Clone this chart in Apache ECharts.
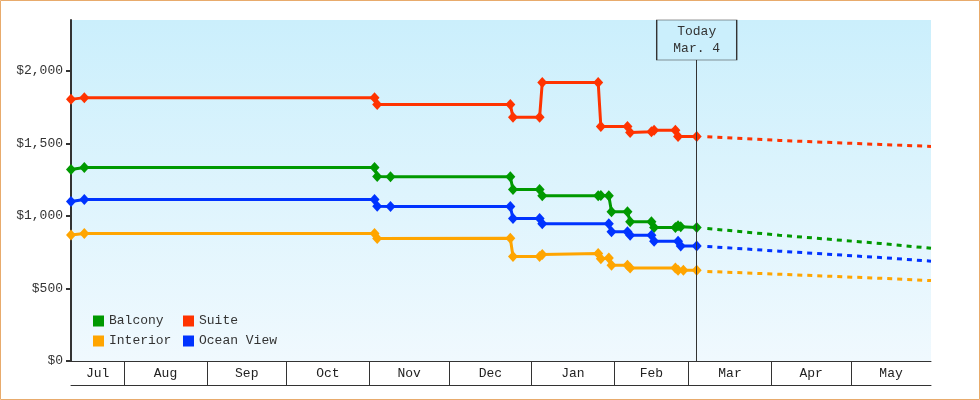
<!DOCTYPE html>
<html><head><meta charset="utf-8">
<script src="https://cdn.jsdelivr.net/npm/echarts@6/dist/echarts.min.js"></script>
<style>html,body{margin:0;padding:0;background:#fff}#c{width:980px;height:400px}</style>
</head><body><div id="c"></div>
<script>
// ---- data ----
const axisStart = '2018-07-12';
const axisEnd = '2019-05-31';
const monthLabels = ['Jul','Aug','Sep','Oct','Nov','Dec','Jan','Feb','Mar','Apr','May'];
const monthBoundaries = ['2018-08-01','2018-09-01','2018-10-01','2018-11-01','2018-12-01','2019-01-01','2019-02-01','2019-03-01','2019-04-01','2019-05-01'];
const yTicks = [0, 500, 1000, 1500, 2000];
const yMax = 2350;
const todayDate = '2019-03-04';
const todayText = 'Today\nMar. 4';

const suiteDates = ['2018-07-12','2018-07-17','2018-11-03','2018-11-04','2018-12-24','2018-12-25','2019-01-04','2019-01-05','2019-01-26','2019-01-27','2019-02-06','2019-02-07','2019-02-15','2019-02-16','2019-02-24','2019-02-25','2019-03-04'];
const suitePrices = [1803,1815,1815,1768,1768,1679,1679,1920,1920,1616,1616,1575,1580,1590,1590,1548,1548];

const balconyDates = ['2018-07-12','2018-07-17','2018-11-03','2018-11-04','2018-11-09','2018-12-24','2018-12-25','2019-01-04','2019-01-05','2019-01-26','2019-01-27','2019-01-30','2019-01-31','2019-02-06','2019-02-07','2019-02-15','2019-02-16','2019-02-24','2019-02-25','2019-02-26','2019-03-04'];
const balconyPrices = [1320,1334,1334,1272,1269,1269,1182,1182,1138,1138,1140,1138,1028,1028,959,959,920,920,932,925,920];

const oceanDates = ['2018-07-12','2018-07-17','2018-11-03','2018-11-04','2018-11-09','2018-12-24','2018-12-25','2019-01-04','2019-01-05','2019-01-30','2019-01-31','2019-02-06','2019-02-07','2019-02-15','2019-02-16','2019-02-25','2019-02-26','2019-03-04'];
const oceanPrices = [1099,1113,1113,1067,1065,1065,982,982,945,945,890,890,867,867,826,826,793,793];

const interiorDates = ['2018-07-12','2018-07-17','2018-11-03','2018-11-04','2018-12-24','2018-12-25','2019-01-04','2019-01-05','2019-01-26','2019-01-27','2019-01-30','2019-01-31','2019-02-06','2019-02-07','2019-02-24','2019-02-25','2019-02-27','2019-03-04'];
const interiorPrices = [869,879,879,844,846,720,720,734,741,705,710,660,660,641,641,625,625,625];

const forecastDates = ['2019-03-08','2019-04-04','2019-05-12','2019-05-31'];
const suiteForecast = [1545,1520,1492,1479];
const balconyForecast = [913,867,810,777];
const oceanForecast = [789,757,713,688];
const interiorForecast = [617,598,570,554];

// ---- helpers ----
const ts = d => Date.parse(d + 'T00:00:00Z');
const zip = (ds, vs) => ds.map((d, i) => [ts(d), vs[i]]);
const FONT = 'Liberation Mono';
const edges = [ts(axisStart)].concat(monthBoundaries.map(ts), [ts(axisEnd)]);
const labelValues = monthLabels.map((m, i) => (edges[i] + edges[i + 1]) / 2);
const colors = {Balcony:'#009900', Suite:'#ff3300', Interior:'#ffa500', 'Ocean View':'#0033ff'};

function mainSeries(name, ds, vs, extra) {
  return Object.assign({
    name, type:'line', data: zip(ds, vs), color: colors[name],
    symbol:'diamond', symbolSize:[10,11], showSymbol:true,
    lineStyle:{width:3, color: colors[name]}, itemStyle:{color: colors[name]},
    z:3, animation:false, emphasis:{disabled:true}
  }, extra || {});
}
function forecastSeries(name, vs) {
  return {
    name: name + ' forecast', type:'line', data: zip(forecastDates, vs),
    symbol:'none', showSymbol:false, color: colors[name],
    lineStyle:{width:3, type:[5,5], color: colors[name]},
    z:3, animation:false, emphasis:{disabled:true}
  };
}

const bgTop = '#cbeffc', bgBottom = '#f0f9fe';
const legendText = {fontFamily:FONT, fontSize:13, color:'#333', lineHeight:14};
const chart = echarts.init(document.getElementById('c'), null, {renderer:'canvas'});
chart.setOption({
  animation:false,
  textStyle:{fontFamily: FONT},
  grid:{left:71, right:49, top:20, bottom:39, show:true, borderWidth:0,
    backgroundColor:{type:'linear', x:0, y:0, x2:0, y2:1, colorStops:[{offset:0,color:bgTop},{offset:1,color:bgBottom}]}},
  graphic:[{type:'rect', shape:{x:0.5, y:0.5, width:979, height:399}, style:{fill:'transparent', stroke:'#e8ab6c', lineWidth:1}, silent:true, z:100}],
  legend:[
    {data:['Balcony','Interior'], orient:'vertical', left:88, top:309, icon:'rect', itemWidth:11, itemHeight:11, itemGap:6,
     selectedMode:false, textStyle:legendText},
    {data:['Suite','Ocean View'], orient:'vertical', left:178, top:309, icon:'rect', itemWidth:11, itemHeight:11, itemGap:6,
     selectedMode:false, textStyle:legendText}
  ],
  xAxis:[
    {type:'value', min: ts(axisStart), max: ts(axisEnd), position:'bottom',
     axisLine:{show:true, lineStyle:{color:'#333', width:1}},
     axisTick:{show:true, inside:false, length:25, customValues: monthBoundaries.map(ts), lineStyle:{color:'#333', width:1}},
     axisLabel:{show:true, customValues: labelValues, margin:6, color:'#222', fontFamily:FONT, fontSize:13,
       formatter: v => { let bi = 0, bd = Infinity; labelValues.forEach((lv, i) => { const d = Math.abs(lv - v); if (d < bd) { bd = d; bi = i; } }); return monthLabels[bi]; }},
     splitLine:{show:false}},
    {type:'value', min: ts(axisStart), max: ts(axisEnd), position:'bottom', offset:24,
     axisLine:{show:true, lineStyle:{color:'#333', width:1}}, axisTick:{show:false}, axisLabel:{show:false}, splitLine:{show:false}}
  ],
  yAxis:{type:'value', min:0, max:yMax,
    axisLine:{show:true, lineStyle:{color:'#333', width:2}},
    axisTick:{show:true, length:5, customValues:yTicks, lineStyle:{color:'#333', width:2}},
    axisLabel:{customValues:yTicks, margin:8, color:'#333', fontFamily:FONT, fontSize:13,
      formatter: v => '$' + v.toLocaleString('en-US')},
    splitLine:{show:false}},
  series:[
    mainSeries('Balcony', balconyDates, balconyPrices),
    mainSeries('Suite', suiteDates, suitePrices, {
      markLine:{silent:true, symbol:'none', animation:false, label:{show:false},
        lineStyle:{color:'#333', width:1, type:'solid'}, emphasis:{disabled:true},
        data:[{xAxis: ts(todayDate)}]},
      markPoint:{silent:true, z:10, symbol:'rect', symbolSize:[80,40], symbolOffset:[0,20], animation:false,
        itemStyle:{color:bgTop, borderColor:'#333', borderWidth:1},
        label:{show:true, position:'inside', formatter: todayText, color:'#333', fontFamily:FONT, fontSize:13, lineHeight:17},
        data:[{coord:[ts(todayDate), yMax]}]}
    }),
    mainSeries('Interior', interiorDates, interiorPrices),
    mainSeries('Ocean View', oceanDates, oceanPrices),
    forecastSeries('Balcony', balconyForecast),
    forecastSeries('Suite', suiteForecast),
    forecastSeries('Interior', interiorForecast),
    forecastSeries('Ocean View', oceanForecast)
  ]
});
</script></body></html>
